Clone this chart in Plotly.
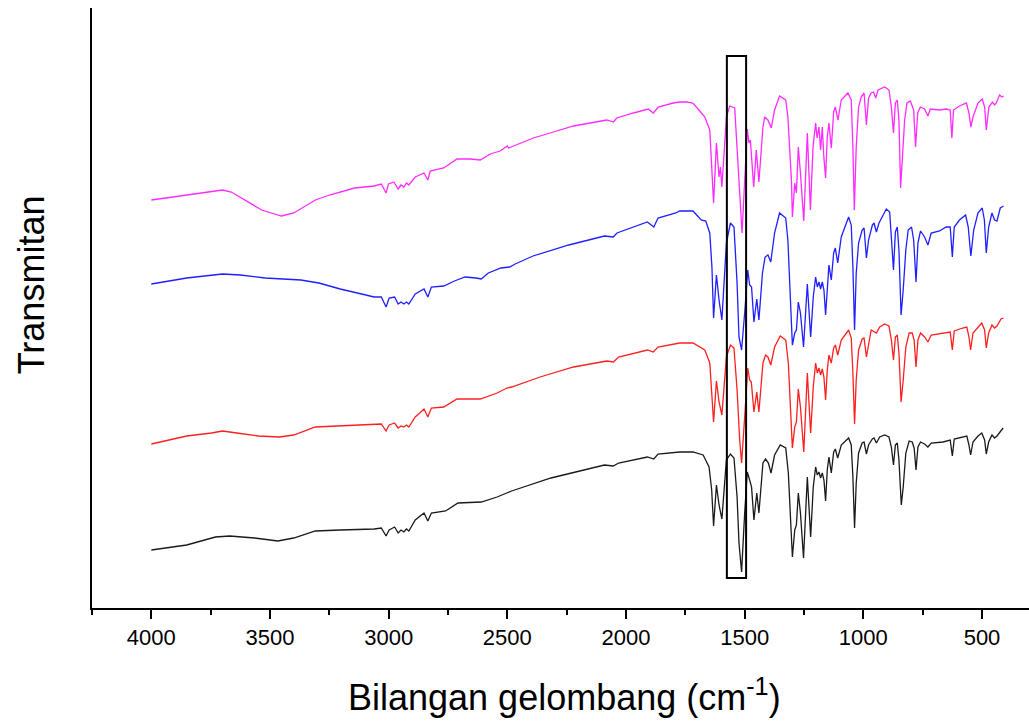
import plotly.graph_objects as go

# FTIR spectra, stacked with vertical offsets (arbitrary transmittance units)

wn_magenta = [4000, 3851, 3700, 3663, 3595, 3535, 3452, 3400, 3309, 3249, 3144, 3061, 3031, 3011, 3001,
              2978, 2960, 2948, 2936, 2925, 2915, 2888, 2851, 2835, 2825, 2768, 2712, 2656, 2614, 2572,
              2530, 2500, 2495, 2485, 2446, 2390, 2306, 2221, 2151, 2081, 2053, 2039, 1969, 1906, 1885,
              1864, 1801, 1774, 1745, 1718, 1693, 1668, 1647, 1631, 1619, 1608, 1602, 1596, 1577, 1563,
              1542, 1532, 1524, 1518, 1511, 1497, 1489, 1482, 1476, 1462, 1451, 1440, 1423, 1416, 1402,
              1388, 1374, 1353, 1327, 1318, 1303, 1299, 1289, 1282, 1274, 1265, 1251, 1236, 1223, 1212,
              1201, 1195, 1187, 1180, 1173, 1167, 1159, 1152, 1145, 1135, 1125, 1118, 1107, 1093, 1065,
              1051, 1044, 1038, 1030, 1020, 1009, 997, 987, 978, 967, 957, 948, 938, 910, 892,
              882, 873, 865, 857, 850, 843, 836, 826, 816, 802, 788, 780, 771, 760, 742,
              728, 718, 679, 651, 634, 627, 620, 595, 566, 555, 547, 538, 517, 499, 489,
              482, 471, 456, 447, 440, 426, 416, 409]
t_magenta = [40.8, 41.3, 41.8, 41.6, 40.6, 39.8, 39.2, 39.5, 40.8, 41.3, 42.0, 42.2, 42.4, 41.5, 42.4,
             42.6, 41.9, 42.3, 42.1, 42.5, 42.3, 43.1, 43.5, 42.8, 43.7, 44.0, 44.9, 44.9, 44.8, 45.4,
             45.7, 46.2, 46.0, 46.1, 46.5, 47.0, 47.6, 48.2, 48.5, 48.8, 48.6, 49.0, 49.5, 49.9, 49.5,
             50.1, 50.5, 50.6, 50.6, 50.5, 49.8, 49.1, 47.8, 40.5, 46.5, 43.1, 44.1, 42.1, 49.1, 50.2,
             50.0, 46.1, 41.8, 40.3, 37.5, 44.1, 47.9, 46.5, 46.8, 42.1, 45.8, 42.6, 48.1, 49.1, 48.8,
             48.0, 49.8, 51.2, 50.8, 49.1, 42.8, 39.1, 42.5, 41.5, 46.1, 43.5, 38.7, 47.5, 39.8, 46.1,
             48.5, 47.0, 48.1, 45.8, 48.1, 45.3, 43.0, 47.1, 48.5, 46.0, 49.6, 50.1, 48.8, 50.8, 51.5,
             50.8, 46.1, 39.8, 46.1, 50.1, 51.1, 51.5, 48.3, 51.0, 51.5, 51.6, 51.0, 51.8, 52.1, 51.8,
             50.1, 47.5, 50.5, 50.8, 48.8, 42.0, 44.5, 48.8, 50.5, 50.7, 49.8, 46.1, 49.5, 50.1, 49.9,
             49.2, 49.9, 49.8, 49.9, 49.8, 47.0, 49.8, 50.2, 50.5, 49.5, 48.1, 49.1, 50.5, 50.9, 50.1,
             47.8, 50.1, 50.6, 50.3, 50.5, 51.3, 51.1, 51.2]

wn_blue = [4000, 3851, 3700, 3625, 3520, 3370, 3294, 3204, 3114, 3061, 3031, 3011, 2998, 2975, 2960,
           2948, 2936, 2925, 2915, 2888, 2851, 2835, 2820, 2768, 2723, 2678, 2632, 2610, 2580, 2527,
           2490, 2467, 2392, 2241, 2091, 2054, 2038, 1970, 1910, 1883, 1865, 1790, 1774, 1745, 1718,
           1683, 1664, 1647, 1638, 1631, 1619, 1608, 1596, 1577, 1560, 1545, 1532, 1524, 1513, 1499,
           1487, 1479, 1471, 1461, 1449, 1440, 1425, 1414, 1402, 1390, 1374, 1353, 1327, 1318, 1306,
           1299, 1289, 1282, 1274, 1265, 1252, 1236, 1222, 1211, 1201, 1194, 1187, 1180, 1173, 1166,
           1159, 1152, 1145, 1135, 1125, 1118, 1108, 1093, 1062, 1051, 1044, 1037, 1030, 1020, 1005,
           997, 987, 978, 962, 955, 945, 934, 903, 889, 880, 873, 865, 857, 850, 841,
           832, 821, 811, 797, 788, 778, 770, 759, 742, 728, 714, 679, 651, 634, 625,
           617, 595, 569, 558, 547, 535, 517, 499, 490, 482, 472, 458, 447, 437, 423, 409]
t_blue = [32.4, 33.0, 33.4, 33.3, 33.0, 32.8, 32.5, 31.9, 31.4, 31.1, 31.1, 30.1, 31.0, 31.1, 30.4,
          30.6, 30.4, 30.6, 30.4, 31.4, 31.9, 31.1, 32.1, 32.2, 32.7, 33.1, 33.0, 32.9, 33.5, 34.0,
          34.1, 34.4, 35.2, 36.3, 37.2, 37.1, 37.5, 38.1, 38.6, 38.1, 39.0, 39.5, 39.7, 39.7, 39.7,
          38.8, 38.7, 37.5, 34.1, 29.0, 33.3, 30.8, 28.8, 36.5, 38.5, 38.1, 32.5, 27.1, 25.8, 29.8,
          33.8, 32.3, 32.1, 28.6, 30.9, 28.8, 33.5, 35.1, 35.3, 34.6, 37.5, 39.5, 39.0, 36.8, 29.5,
          26.3, 27.5, 27.8, 30.6, 29.5, 26.1, 32.4, 27.1, 31.1, 33.1, 32.1, 32.6, 31.9, 32.6, 31.8,
          29.3, 32.5, 34.3, 32.8, 35.5, 36.0, 34.5, 37.1, 39.1, 38.3, 34.1, 27.8, 33.5, 36.5, 37.8,
          38.0, 35.0, 36.8, 38.3, 38.5, 37.6, 38.5, 39.9, 39.6, 36.8, 33.8, 37.6, 38.1, 35.8, 29.3,
          31.8, 35.8, 37.8, 38.1, 36.8, 32.6, 36.5, 37.7, 37.1, 36.3, 37.5, 37.7, 38.1, 38.1, 35.1,
          38.1, 38.8, 39.3, 38.1, 35.2, 37.8, 39.5, 40.0, 38.8, 35.5, 38.1, 39.5, 38.8, 38.7, 40.0, 40.2]

wn_red = [4000, 3851, 3746, 3700, 3640, 3549, 3460, 3400, 3309, 3204, 3061, 3031, 3011, 2998, 2975,
          2960, 2948, 2936, 2925, 2915, 2888, 2851, 2835, 2820, 2768, 2712, 2614, 2543, 2502, 2482,
          2362, 2221, 2081, 2053, 2031, 1940, 1910, 1885, 1865, 1774, 1718, 1668, 1647, 1631, 1619,
          1608, 1596, 1577, 1560, 1545, 1532, 1521, 1513, 1500, 1487, 1479, 1472, 1461, 1449, 1440,
          1423, 1412, 1402, 1390, 1374, 1350, 1327, 1316, 1306, 1299, 1289, 1282, 1274, 1265, 1251,
          1236, 1222, 1211, 1201, 1194, 1187, 1180, 1173, 1166, 1159, 1152, 1145, 1135, 1125, 1118,
          1108, 1093, 1062, 1051, 1044, 1037, 1030, 1020, 1005, 997, 987, 978, 967, 945, 931,
          910, 892, 882, 873, 865, 857, 850, 841, 832, 821, 807, 794, 786, 778, 770,
          759, 742, 728, 714, 664, 634, 625, 617, 581, 564, 555, 548, 538, 517, 501,
          489, 482, 472, 458, 447, 437, 420, 409]
t_red = [16.4, 17.2, 17.5, 17.7, 17.5, 17.2, 17.1, 17.3, 18.1, 18.2, 18.3, 18.4, 17.7, 18.3, 18.5,
         18.0, 18.2, 18.1, 18.3, 18.1, 19.1, 19.9, 19.1, 20.0, 20.1, 20.9, 20.9, 21.5, 22.0, 22.1,
         23.1, 24.1, 24.7, 24.6, 25.1, 25.6, 25.8, 25.6, 26.1, 26.5, 26.5, 25.8, 24.5, 18.6, 22.7,
         20.6, 19.3, 25.1, 26.3, 26.0, 21.8, 16.8, 14.5, 19.1, 24.0, 22.8, 22.6, 19.6, 21.6, 19.6,
         24.5, 25.3, 25.1, 24.3, 26.1, 27.2, 26.8, 24.5, 19.1, 16.0, 18.1, 18.6, 21.9, 20.1, 15.6,
         23.5, 17.5, 22.1, 24.5, 23.5, 24.0, 23.3, 23.9, 23.1, 20.8, 23.8, 25.3, 24.5, 26.0, 26.3,
         25.3, 26.8, 27.8, 27.0, 23.5, 18.4, 22.8, 25.8, 26.9, 27.0, 25.1, 26.5, 27.8, 27.5, 28.1,
         28.4, 28.2, 26.8, 24.8, 27.1, 27.3, 25.5, 20.6, 22.8, 26.1, 27.5, 27.5, 26.8, 24.1, 26.8,
         27.5, 27.1, 26.6, 27.3, 27.5, 27.6, 25.8, 27.7, 28.0, 28.1, 27.1, 25.8, 27.5, 28.1, 28.5,
         27.8, 26.0, 27.5, 28.3, 28.0, 28.2, 28.9, 29.0]

wn_black = [4000, 3851, 3730, 3670, 3565, 3467, 3400, 3309, 3204, 3061, 3031, 3011, 2998, 2975, 2960,
            2948, 2936, 2925, 2915, 2888, 2851, 2835, 2820, 2760, 2708, 2610, 2543, 2482, 2316, 2091,
            2054, 2031, 1910, 1883, 1865, 1774, 1718, 1675, 1650, 1639, 1631, 1619, 1608, 1596, 1577,
            1560, 1545, 1532, 1524, 1513, 1500, 1489, 1479, 1471, 1461, 1449, 1440, 1423, 1412, 1400,
            1389, 1374, 1350, 1327, 1316, 1306, 1299, 1289, 1282, 1274, 1265, 1252, 1236, 1222, 1211,
            1201, 1194, 1187, 1180, 1173, 1166, 1159, 1152, 1145, 1135, 1125, 1118, 1108, 1093, 1062,
            1051, 1044, 1037, 1030, 1020, 1005, 997, 987, 978, 962, 955, 945, 931, 910, 892,
            882, 873, 865, 857, 850, 840, 832, 821, 807, 794, 786, 778, 770, 759, 742,
            728, 714, 664, 634, 625, 617, 581, 564, 555, 548, 538, 517, 501, 489, 482,
            472, 458, 447, 437, 423, 411]
t_black = [5.8, 6.3, 7.1, 7.2, 7.0, 6.7, 7.0, 7.7, 7.8, 7.9, 8.0, 7.2, 7.8, 8.1, 7.5,
           7.8, 7.6, 7.9, 7.7, 8.8, 9.5, 8.7, 9.5, 9.7, 10.5, 10.6, 11.1, 11.7, 13.0, 14.3,
           14.2, 14.5, 15.1, 14.9, 15.4, 15.6, 15.6, 15.3, 14.1, 11.8, 8.2, 12.3, 10.3, 8.9, 14.8,
           15.4, 15.0, 11.1, 6.5, 3.6, 9.5, 13.6, 12.8, 12.1, 8.8, 11.5, 9.5, 14.5, 14.9, 14.5,
           13.5, 15.3, 16.3, 16.0, 13.5, 8.1, 5.1, 7.8, 8.3, 11.5, 9.5, 5.0, 13.1, 7.1, 12.1,
           14.1, 13.3, 13.6, 13.0, 13.5, 12.8, 10.7, 13.8, 15.1, 13.5, 15.6, 15.9, 15.0, 16.3, 17.0,
           16.3, 13.1, 8.0, 12.5, 15.5, 16.5, 16.6, 15.4, 16.3, 16.9, 17.0, 16.5, 17.1, 17.3, 17.1,
           16.1, 14.3, 16.3, 16.5, 14.8, 10.3, 12.1, 15.5, 16.7, 16.6, 16.0, 13.8, 16.1, 16.6, 16.4,
           16.1, 16.5, 16.6, 16.8, 15.2, 16.9, 17.1, 17.2, 16.3, 15.3, 16.6, 17.2, 17.5, 16.8, 15.4,
           16.6, 17.3, 17.0, 17.2, 17.6, 18.0]

# highlighted band (wavenumber limits, transmittance limits)
box_wn = [1575, 1494]
box_t = [3.0, 55.2]

x_range = [4250, 302]
y_range = [0, 60]
x_ticks = [4000, 3500, 3000, 2500, 2000, 1500, 1000, 500]

series = [
    (wn_black, t_black, "#1a1a1a"),
    (wn_red, t_red, "#ff1f1f"),
    (wn_blue, t_blue, "#1f1fff"),
    (wn_magenta, t_magenta, "#ff2bff"),
]

fig = go.Figure()
for wn, t, color in series:
    fig.add_trace(go.Scatter(x=wn, y=t, mode="lines",
                             line=dict(color=color, width=1.3),
                             showlegend=False, hoverinfo="skip"))

fig.add_shape(type="rect", xref="x", yref="y",
              x0=box_wn[0], x1=box_wn[1], y0=box_t[0], y1=box_t[1],
              line=dict(color="black", width=2), fillcolor="rgba(0,0,0,0)")

font_family = "Liberation Sans, Arial, sans-serif"
tick_font = dict(family=font_family, size=22, color="black")
title_font = dict(family=font_family, size=36, color="black")

# axis titles placed as paper-anchored annotations
fig.add_annotation(text="Bilangan gelombang (cm<sup>-1</sup>)", xref="paper", yref="paper",
                   x=0.504, y=-0.145, xanchor="center", yanchor="middle",
                   showarrow=False, font=title_font)
fig.add_annotation(text="Transmitan", xref="paper", yref="paper",
                   x=-0.065, y=0.538, xanchor="center", yanchor="middle", textangle=-90,
                   showarrow=False, font=title_font)

fig.update_layout(
    width=1029, height=722,
    margin=dict(l=92, r=0, t=8, b=114),
    paper_bgcolor="white", plot_bgcolor="white",
    xaxis=dict(range=x_range, showgrid=False, zeroline=False,
               showline=True, linecolor="black", linewidth=2,
               ticks="outside", ticklen=9, tickwidth=2, tickcolor="black",
               tickvals=x_ticks, tickfont=tick_font,
               minor=dict(ticks="outside", ticklen=5, tickwidth=2, tickcolor="black", dtick=250,
                          tick0=4250)),
    yaxis=dict(range=y_range, showgrid=False, zeroline=False,
               showline=True, linecolor="black", linewidth=2,
               ticks="", showticklabels=False),
)

fig.write_html("out.html")
